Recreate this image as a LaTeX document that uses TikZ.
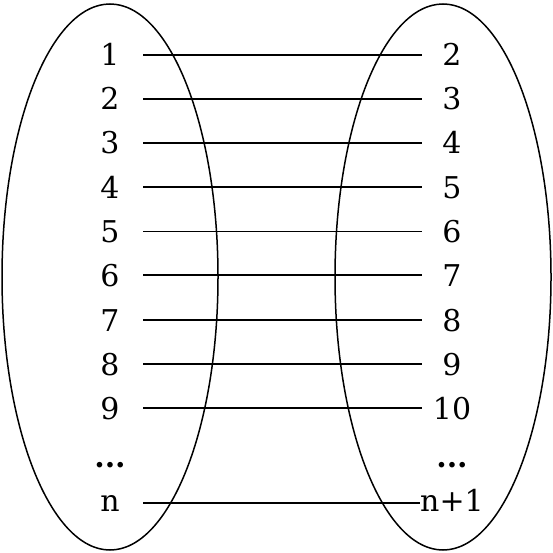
\documentclass[tikz,border=0pt]{standalone}
\usepackage{fontspec}
\setmainfont{DejaVu Serif}
\begin{document}
\begin{tikzpicture}[x=1pt,y=-1pt,
  lab/.style={font=\fontsize{30}{30}\selectfont, inner sep=0pt, anchor=base},
  dots/.style={font=\fontsize{30}{30}\selectfont\bfseries, inner sep=0pt, anchor=base},
  lft/.style={lab, minimum width=66pt},
  rgt/.style={lab, minimum width=60pt},
  conn/.style={line width=1.5pt},
  blob/.style={line width=1.5pt}]
\useasboundingbox (0,0) rectangle (553,553);
\draw[blob] (110,277) ellipse [x radius=108, y radius=273];
\draw[blob] (443,277) ellipse [x radius=108, y radius=273];
\foreach \i/\r/\y in {1/2/55,2/3/99,3/4/143,4/5/187,5/6/231,6/7/275,7/8/320,8/9/364,9/10/408}{
  \node[lft] (L\i) at (110,\y+11) {\i};
  \node[rgt] (R\i) at (452,\y+11) {\r};
  \draw[conn] (L\i.east) -- (L\i.east -| R\i.west);
}
\node[dots] (Ld) at (110,467) {...};
\node[dots] (Rd) at (452,467) {...};
\node[lft] (Ln) at (110,511) {n};
\node[rgt] (Rn) at (452,511) {n+1};
\draw[conn] (Ln.east) -- (Ln.east -| Rn.west);
\end{tikzpicture}
\end{document}
